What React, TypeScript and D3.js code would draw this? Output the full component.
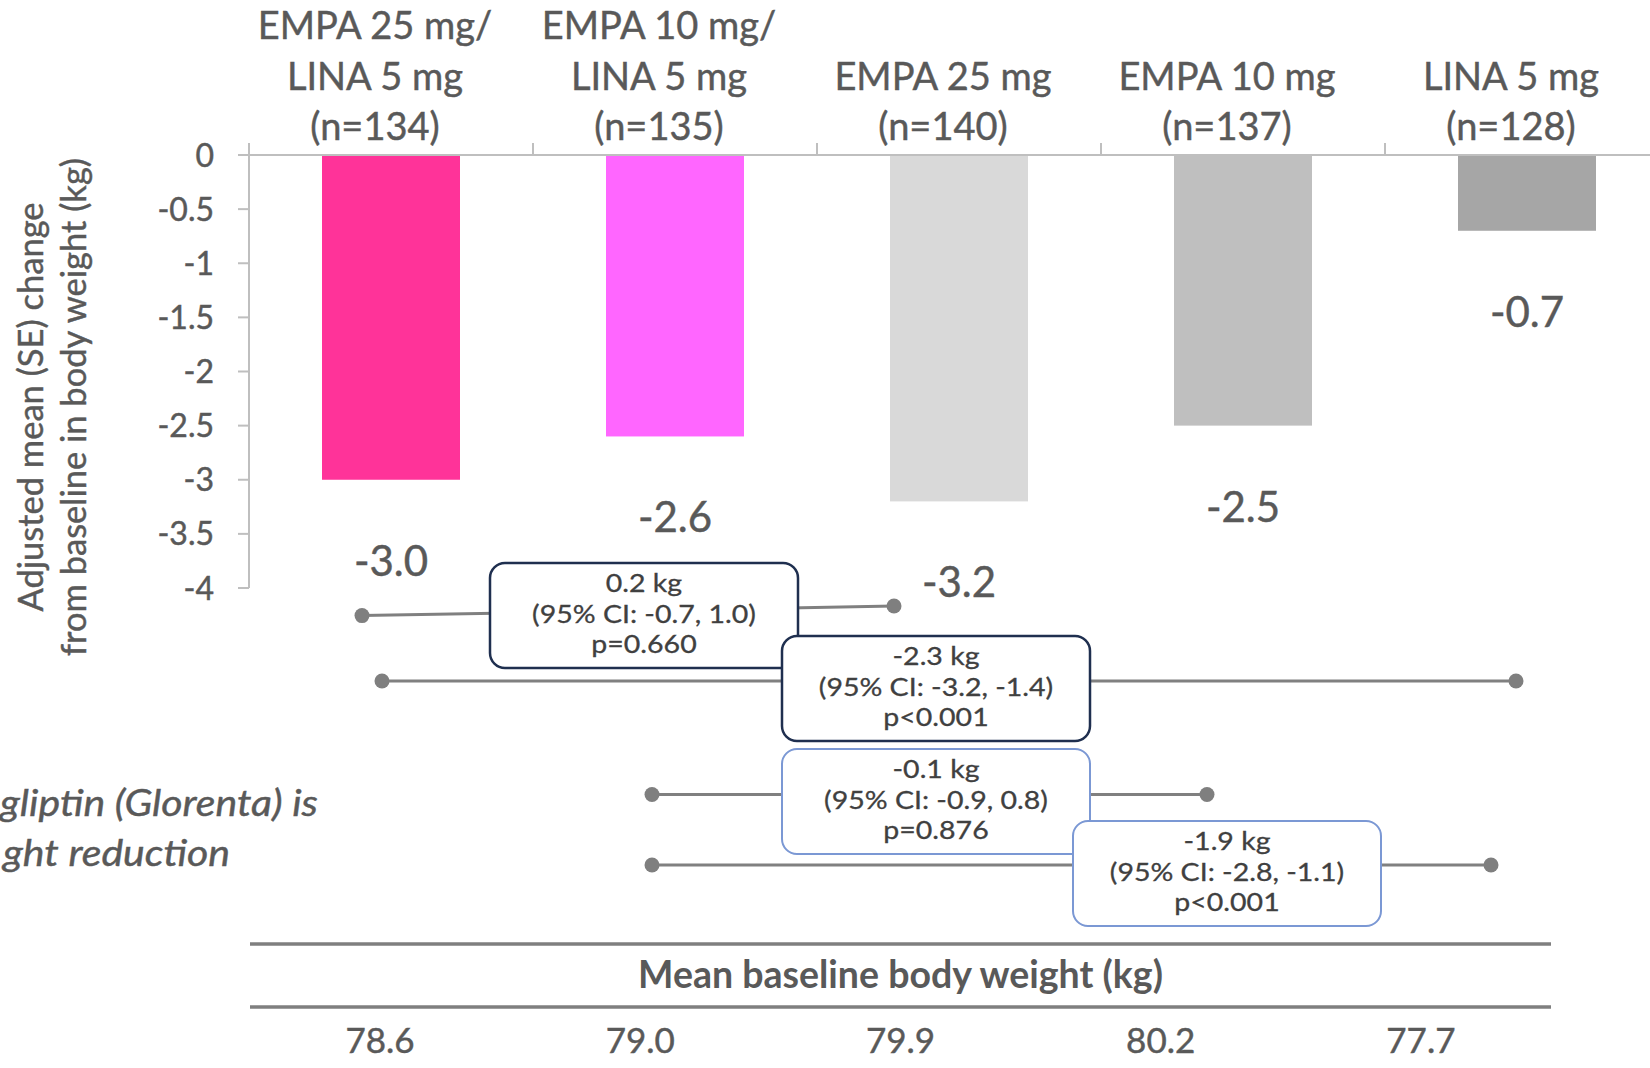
import React from 'react';
import * as d3 from 'd3';

// ---------- data ----------
const categoryLines: string[][] = [
  ['EMPA 25 mg/', 'LINA 5 mg', '(n=134)'],
  ['EMPA 10 mg/', 'LINA 5 mg', '(n=135)'],
  ['EMPA 25 mg', '(n=140)'],
  ['EMPA 10 mg', '(n=137)'],
  ['LINA 5 mg', '(n=128)'],
];
const changeValues = [-3.0, -2.6, -3.2, -2.5, -0.7];
const valueLabels = ['-3.0', '-2.6', '-3.2', '-2.5', '-0.7'];
const barColors = ['#FF3399', '#FF66FF', '#D9D9D9', '#BFBFBF', '#A6A6A6'];
const yTicks = [0, -0.5, -1, -1.5, -2, -2.5, -3, -3.5, -4];
const yTickLabels = ['0', '-0.5', '-1', '-1.5', '-2', '-2.5', '-3', '-3.5', '-4'];
const baselineWeights = ['78.6', '79.0', '79.9', '80.2', '77.7'];

const comparisonFrom = [0, 0, 1, 1];
const comparisonTo = [2, 4, 3, 4];
const comparisonDiff = ['0.2 kg', '-2.3 kg', '-0.1 kg', '-1.9 kg'];
const comparisonCI = ['(95% CI: -0.7, 1.0)', '(95% CI: -3.2, -1.4)', '(95% CI: -0.9, 0.8)', '(95% CI: -2.8, -1.1)'];
const comparisonP = ['p=0.660', 'p<0.001', 'p=0.876', 'p<0.001'];

// ---------- layout ----------
const W = 1650;
const H = 1068;
const FONT = "Lato, 'Open Sans', sans-serif";
const TXT = '#595959';
const SW = 0.45; // slight text thickening to mimic Calibri's weight
const plotLeft = 249;
const bandStep = 284;
const zeroY = 155;
const minY = 588;
const barWidth = 138;
const labelGap = 96;
const catLabelShift = -16;

const compLeftOffset = [-29, -9, -23, -23];
const compRightOffset = [-65, -11, -36, -36];
const compRowY = [[615.6, 606], [681, 681], [794.5, 794.5], [865, 865]];
const boxCenterX = [644, 936, 936, 1227];
const boxTop = [563, 636, 749, 821];
const boxStroke = ['#1F2F4F', '#1F2F4F', '#7B98D4', '#7B98D4'];
const boxStrokeW = [2.5, 2.5, 2, 2];
const boxW = 308;
const boxH = 105;
const boxFont = 25.2;
const boxWidthFont = 28.5;

const tableLeft = 250;
const tableRight = 1551;

let measureCtx: CanvasRenderingContext2D | null = null;
function measure(s: string, size: number): number | undefined {
  try {
    if (!measureCtx) measureCtx = document.createElement('canvas').getContext('2d');
    if (!measureCtx) return undefined;
    measureCtx.font = `${size}px Lato`;
    const w = measureCtx.measureText(s).width;
    return w > 0 ? w : undefined;
  } catch (e) {
    return undefined;
  }
}

export default function App() {
  const idx = d3.range(categoryLines.length);
  const x = d3.scaleBand<number>().domain(idx).range([plotLeft, plotLeft + bandStep * idx.length]).padding(0);
  const y = d3.scaleLinear().domain([0, -4]).range([zeroY, minY]);
  const cx = (i: number) => (x(i) as number) + x.bandwidth() / 2;
  const tableX = d3.scaleBand<number>().domain(idx).range([tableLeft, tableRight]).padding(0);

  const t = { fill: TXT, stroke: TXT, strokeWidth: SW };

  const BoxLine = ({ s, xc, yb }: { s: string; xc: number; yb: number }) => {
    const tl = measure(s, boxWidthFont);
    return (
      <text
        x={xc}
        y={yb}
        textAnchor="middle"
        fontSize={boxFont}
        fill="#404040"
        stroke="#404040"
        strokeWidth={0.3}
        {...(tl ? { textLength: tl, lengthAdjust: 'spacingAndGlyphs' } : {})}
      >
        {s}
      </text>
    );
  };

  return (
    <div style={{ position: 'absolute', left: 0, top: 0, width: W, height: H, overflow: 'hidden' }}>
      <svg width={W} height={H} style={{ display: 'block', background: '#fff' }} fontFamily={FONT}>
        {/* y axis title */}
        <text transform={`translate(43,407) rotate(-90)`} textAnchor="middle" fontSize={34.5} {...t}>
          Adjusted mean (SE) change
        </text>
        <text transform={`translate(86,407) rotate(-90)`} textAnchor="middle" fontSize={34.5} {...t}>
          from baseline in body weight (kg)
        </text>

        {/* y axis */}
        <line x1={plotLeft} x2={plotLeft} y1={zeroY - 12} y2={y(-4)} stroke="#BFBFBF" strokeWidth={2} />
        {yTicks.map((tk, i) => (
          <g key={'yt' + i}>
            <line x1={plotLeft - 11} x2={plotLeft} y1={y(tk)} y2={y(tk)} stroke="#BFBFBF" strokeWidth={2} />
            <text x={214} y={y(tk)} dy="0.36em" textAnchor="end" fontSize={32} {...t}>
              {yTickLabels[i]}
            </text>
          </g>
        ))}

        {/* bars */}
        {changeValues.map((v, i) => (
          <rect key={'b' + i} x={cx(i) - barWidth / 2} y={y(0)} width={barWidth} height={y(v) - y(0)} fill={barColors[i]} />
        ))}

        {/* zero / category axis */}
        <line x1={plotLeft - 11} x2={W} y1={zeroY} y2={zeroY} stroke="#BFBFBF" strokeWidth={2} />
        {idx.map((i) => (
          <line key={'ct' + i} x1={x(i) as number} x2={x(i) as number} y1={zeroY - 12} y2={zeroY} stroke="#BFBFBF" strokeWidth={2} />
        ))}

        {/* category labels */}
        {categoryLines.map((lines, i) => (
          <g key={'cl' + i}>
            {lines.map((s, j) => (
              <text
                key={j}
                x={cx(i) + catLabelShift}
                y={140 - (lines.length - 1 - j) * 50.5}
                textAnchor="middle"
                fontSize={38}
                {...t}
              >
                {s}
              </text>
            ))}
          </g>
        ))}

        {/* value labels */}
        {changeValues.map((v, i) => (
          <text key={'vl' + i} x={cx(i)} y={y(v) + labelGap} textAnchor="middle" fontSize={42} {...t}>
            {valueLabels[i]}
          </text>
        ))}

        {/* comparison connectors */}
        {comparisonFrom.map((f, k) => {
          const x1 = cx(f) + compLeftOffset[k];
          const x2 = cx(comparisonTo[k]) + compRightOffset[k];
          const [y1, y2] = compRowY[k];
          return (
            <g key={'cmp' + k}>
              <line x1={x1} x2={x2} y1={y1} y2={y2} stroke="#808080" strokeWidth={3} />
              <circle cx={x1} cy={y1} r={7.5} fill="#7F7F7F" />
              <circle cx={x2} cy={y2} r={7.5} fill="#7F7F7F" />
            </g>
          );
        })}
        {comparisonFrom.map((_, k) => {
          const bx = boxCenterX[k] - boxW / 2;
          const by = boxTop[k];
          return (
            <g key={'box' + k}>
              <rect x={bx} y={by} width={boxW} height={boxH} rx={15} ry={15} fill="#fff" stroke={boxStroke[k]} strokeWidth={boxStrokeW[k]} />
              <BoxLine s={comparisonDiff[k]} xc={boxCenterX[k]} yb={by + 29} />
              <BoxLine s={comparisonCI[k]} xc={boxCenterX[k]} yb={by + 59.5} />
              <BoxLine s={comparisonP[k]} xc={boxCenterX[k]} yb={by + 90} />
            </g>
          );
        })}

        {/* partially visible italic note */}
        <text x={0} y={816} textLength={318} lengthAdjust="spacingAndGlyphs" fontSize={37} fontStyle="italic" {...t}>
          gliptin (Glorenta) is
        </text>
        <text x={3} y={866} textLength={227} lengthAdjust="spacingAndGlyphs" fontSize={37} fontStyle="italic" {...t}>
          ght reduction
        </text>

        {/* baseline weight table */}
        <line x1={tableLeft} x2={tableRight} y1={944} y2={944} stroke="#7F7F7F" strokeWidth={3.5} />
        <line x1={tableLeft} x2={tableRight} y1={1007} y2={1007} stroke="#7F7F7F" strokeWidth={3.5} />
        <text x={(tableLeft + tableRight) / 2} y={988} textAnchor="middle" fontSize={37.5} fontWeight="bold" fill={TXT}>
          Mean baseline body weight (kg)
        </text>
        {baselineWeights.map((w, i) => (
          <text
            key={'w' + i}
            x={(tableX(i) as number) + tableX.bandwidth() / 2}
            y={1053}
            textAnchor="middle"
            fontSize={35}
            {...t}
          >
            {w}
          </text>
        ))}
      </svg>
    </div>
  );
}
